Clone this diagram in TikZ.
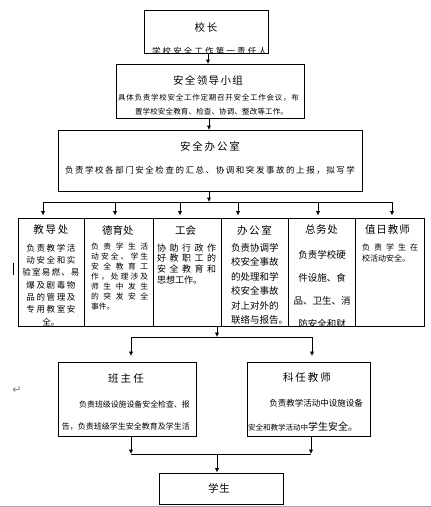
\documentclass[tikz,border=0pt]{standalone}
\usepackage{fontspec}
\setmainfont{Noto Sans CJK SC}
\newfontfamily\dejavu{DejaVu Sans}
\usetikzlibrary{arrows.meta,calc}
\makeatletter
\newcommand\spreadline[2]{\makebox[#1][s]{\@tfor\sp@c:=#2\do{\sp@c\hfil}\unskip}}
\makeatother
\tikzset{
  box/.style={draw, line width=0.8pt, inner sep=0pt, anchor=north west},
  arr/.style={line width=0.8pt, -{Latex[length=4.5pt,width=4.5pt]}},
  ln/.style={line width=0.8pt},
  ttl/.style={inner sep=0pt, font=\fontsize{10.5}{12}\selectfont},
  txt/.style={inner sep=0pt},
}
\newcommand\fs[2]{\fontsize{#1}{#2}\selectfont}
\begin{document}
\begin{tikzpicture}[x=1pt,y=-1pt]
\useasboundingbox (0,0) rectangle (431,507);
% boxes
\node[box, minimum width=124pt, minimum height=43pt] (xz) at (144,10) {};
\node[box, minimum width=188pt, minimum height=54pt] (lead) at (116,64) {};
\node[box, minimum width=304pt, minimum height=61pt] (office) at (58,130) {};
\node[box, minimum width=66pt, minimum height=108pt] (d1) at (18,218) {};
\node[box, minimum width=69pt, minimum height=108pt] (d2) at (84,218) {};
\node[box, minimum width=68pt, minimum height=108pt] (d3) at (153,218) {};
\node[box, minimum width=67pt, minimum height=108pt] (d4) at (221,218) {};
\node[box, minimum width=67pt, minimum height=108pt] (d5) at (288,218) {};
\node[box, minimum width=69pt, minimum height=108pt] (d6) at (355,218) {};
\node[box, minimum width=138pt, minimum height=74pt] (bz) at (58,362) {};
\node[box, minimum width=123pt, minimum height=74pt] (kr) at (247,362) {};
\node[box, minimum width=124pt, minimum height=31pt] (xs) at (159,473) {};

% top texts
\node[ttl] (xzt) at (206,27) {\spreadline{23pt}{校长}};
\begin{scope}
  \clip (144.5,10.5) rectangle (267.5,52.6);
  \node[txt, font=\fs{8.5}{10}] (xzd) at (209.5,51.5) {\spreadline{115pt}{学校安全工作第一责任人}};
\end{scope}
\node[ttl] (leadt) at (208,80) {\spreadline{70pt}{安全领导小组}};
\node[txt, font=\fs{7.5}{9}] (leadd1) at (208.5,98) {\spreadline{181pt}{具体负责学校安全工作定期召开安全工作会议，布}};
\node[txt, font=\fs{7.5}{9}] (leadd2) at (211.5,112) {\spreadline{153pt}{置学校安全教育、检查、协调、整改等工作。}};
\node[ttl] (officet) at (210,146) {\spreadline{60pt}{安全办公室}};
\node[txt, font=\fs{8.5}{10}] (officed) at (210,170) {\spreadline{290pt}{负责学校各部门安全检查的汇总、协调和突发事故的上报，拟写学}};

% department titles
\node[ttl] (d1t) at (51,230) {\spreadline{35pt}{教导处}};
\node[ttl] (d2t) at (117.5,230) {\spreadline{31pt}{德育处}};
\node[ttl] (d3t) at (185,230) {\spreadline{20pt}{工会}};
\node[ttl] (d4t) at (254.5,230) {\spreadline{35pt}{办公室}};
\node[ttl] (d5t) at (321.5,230) {\spreadline{33pt}{总务处}};
\node[ttl] (d6t) at (387.5,230) {\spreadline{45pt}{值日教师}};

% department texts
\node[txt, anchor=north, align=center, font=\fs{8.5}{12.3}] (d1d) at (51,243.8)
 {\spreadline{49pt}{负责教学活}\\\spreadline{49pt}{动安全和实}\\\spreadline{57pt}{验室易燃、易}\\\spreadline{49pt}{爆及剧毒物}\\\spreadline{49pt}{品的管理及}\\\spreadline{49pt}{专用教室安}\\全。};
\node[txt, anchor=north west, align=left, font=\fs{7.8}{10}] (d2d) at (91,243)
 {\spreadline{57pt}{负责学生活}\\\spreadline{57pt}{动安全、学生}\\\spreadline{57pt}{安全教育工}\\\spreadline{57pt}{作，处理涉及}\\\spreadline{57pt}{师生中发生}\\\spreadline{57pt}{的突发安全}\\事件。};
\node[txt, anchor=north west, align=left, font=\fs{9}{10.7}] (d3d) at (157,243.5)
 {\spreadline{59pt}{协助行政作}\\\spreadline{59pt}{好教职工的}\\\spreadline{59pt}{安全教育和}\\思想工作。};
\node[txt, anchor=north west, align=left, font=\fs{9.5}{14.4}] (d4d) at (231,243.3)
 {负责协调学\\校安全事故\\的处理和学\\校安全事故\\对上对外的\\联络与报告。};
\begin{scope}
  \clip (288.5,218.5) rectangle (354.5,325.6);
  \node[txt, anchor=north, align=center, font=\fs{9.5}{23}] (d5d) at (322,250.3)
   {负责学校硬\\件设施、食\\品、卫生、消\\防安全和财};
\end{scope}
\node[txt, anchor=north west, align=left, font=\fs{8}{10.5}] (d6d) at (362,244)
 {\spreadline{56pt}{负责学生在}\\校活动安全。};

% lower boxes texts
\node[ttl] (bzt) at (126,379) {\spreadline{36pt}{班主任}};
\node[txt, anchor=east, font=\fs{7.9}{9}] (bzd1) at (190,404) {负责班级设施设备安全检查、报};
\node[txt, anchor=east, font=\fs{8}{9}] (bzd2) at (190,427) {告，负责班级学生安全教育及学生活};
\node[ttl] (krt) at (307,378) {\spreadline{48pt}{科任教师}};
\node[txt, anchor=east, font=\fs{8.5}{9}] (krd1) at (363,403) {负责教学活动中设施设备};
\node[txt, anchor=west] (krd2) at (248,427) {{\fs{7.5}{9}安全和教学活动中}{\fs{10}{11}学生安全。}};
\node[ttl] (xst) at (219,488) {\spreadline{22pt}{学生}};

% connectors
\coordinate (a1) at (208,53);
\draw[arr] (a1) -- (a1 |- lead.north);
\coordinate (a2) at (209,118);
\draw[arr] (a2) -- (a2 |- office.north);
\coordinate (b1) at (209,202);
\coordinate (b1l) at (43,202);
\coordinate (b1r) at (392,202);
\draw[arr] (office.south -| b1) -- (b1);
\draw[ln] (b1l) -- (b1r);
\foreach \x/\n in {43/d1,115/d2,180/d3,238/d4,318/d5,392/d6}
  \draw[arr, shorten >=2.5pt] (\x,202) -- (\x,202 |- \n.north);
\coordinate (c0) at (217,326);
\coordinate (c1) at (217,337);
\coordinate (c1l) at (131,337);
\coordinate (c1r) at (312,337);
\draw[arr] (c0) -- (c1);
\draw[ln] (c1l) -- (c1r);
\draw[arr, shorten >=6pt] (c1l) -- (c1l |- bz.north);
\draw[arr, shorten >=6pt] (c1r) -- (c1r |- kr.north);
\coordinate (e1) at (131,454);
\coordinate (e2) at (311,454);
\coordinate (e0) at (217,454);
\draw[arr] (e1 |- bz.south) -- (e1);
\draw[arr] (e2 |- kr.south) -- (e2);
\draw[ln] (e1) -- (e2);
\draw[arr, shorten >=0.5pt] (e0) -- (e0 |- xs.north);

% stray marks
\draw[line width=1.6pt] (13.5,263) -- (13.5,275);
\node[txt, text=gray, font=\dejavu\fs{11}{12}] (ret) at (17,390) {↵};
\draw[gray!70, line width=1pt] (0,506) -- (431,506);
\end{tikzpicture}
\end{document}
